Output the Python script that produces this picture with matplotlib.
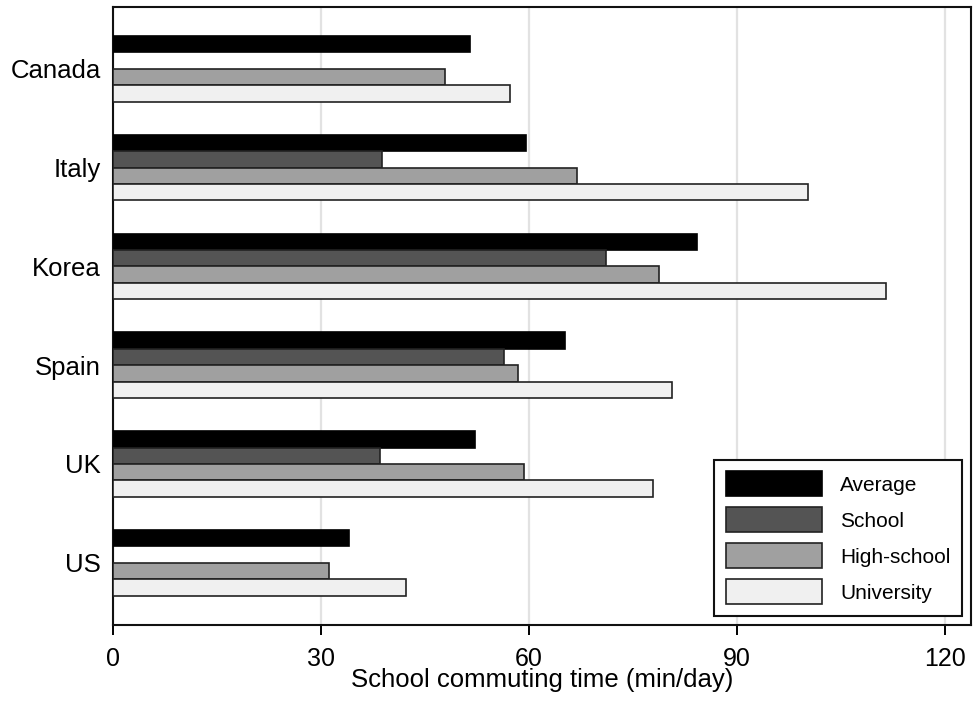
import numpy as np
import matplotlib
matplotlib.use("Agg")
import matplotlib.pyplot as plt

plt.rcParams['font.family'] = ['Liberation Sans', 'DejaVu Sans']

countries = ["Canada", "Italy", "Korea", "Spain", "UK", "US"]
series_names = ["Average", "School", "High-school", "University"]
average = [51.5, 59.6, 84.2, 65.1, 52.2, 34.0]
school = [np.nan, 38.8, 71.1, 56.4, 38.5, np.nan]
high_school = [47.8, 66.9, 78.7, 58.4, 59.2, 31.1]
university = [57.3, 100.2, 111.5, 80.6, 77.8, 42.3]
x_ticks = [0, 30, 60, 90, 120]
x_label = "School commuting time (min/day)"

colors = ["#000000", "#545454", "#a0a0a0", "#f0f0f0"]
edges = ["#000000", "#222222", "#222222", "#222222"]

fig = plt.figure(figsize=(9.73, 7.02), dpi=100)
ax = fig.add_axes([113/973, 77/702, 858/973, 618/702])

y = np.arange(len(countries))
h = 0.166
all_series = [average, school, high_school, university]
for i, (vals, name) in enumerate(zip(all_series, series_names)):
    offs = (i - 1.5) * h
    ax.barh(y + offs, vals, height=h, color=colors[i], edgecolor=edges[i],
            linewidth=1.2, label=name, zorder=3)

ax.set_xlim(0, 123.7)
ax.set_ylim(5.63, -0.625)
ax.set_yticks(y)
ax.set_yticklabels(countries, fontsize=18.5)
ax.set_xticks(x_ticks)
ax.set_xticklabels([str(t) for t in x_ticks], fontsize=18)
ax.tick_params(axis='y', length=0, pad=9)
ax.tick_params(axis='x', length=7, width=1.4, pad=9, direction='out')
ax.xaxis.grid(True, color='#e2e2e2', linewidth=1.6, zorder=0)
ax.set_axisbelow(True)
for s in ax.spines.values():
    s.set_linewidth(1.5)
    s.set_color('#111111')
ax.set_xlabel(x_label, fontsize=18.5, labelpad=-2)

leg = ax.legend(loc='lower right', bbox_to_anchor=(0.9895, 0.015), borderaxespad=0,
                fontsize=15, handlelength=4.65, handleheight=1.47, labelspacing=0.53,
                handletextpad=0.85, borderpad=0.55, fancybox=False, framealpha=1,
                edgecolor='#111111')
leg.get_frame().set_linewidth(1.5)

fig.savefig("out.png", dpi=100)
